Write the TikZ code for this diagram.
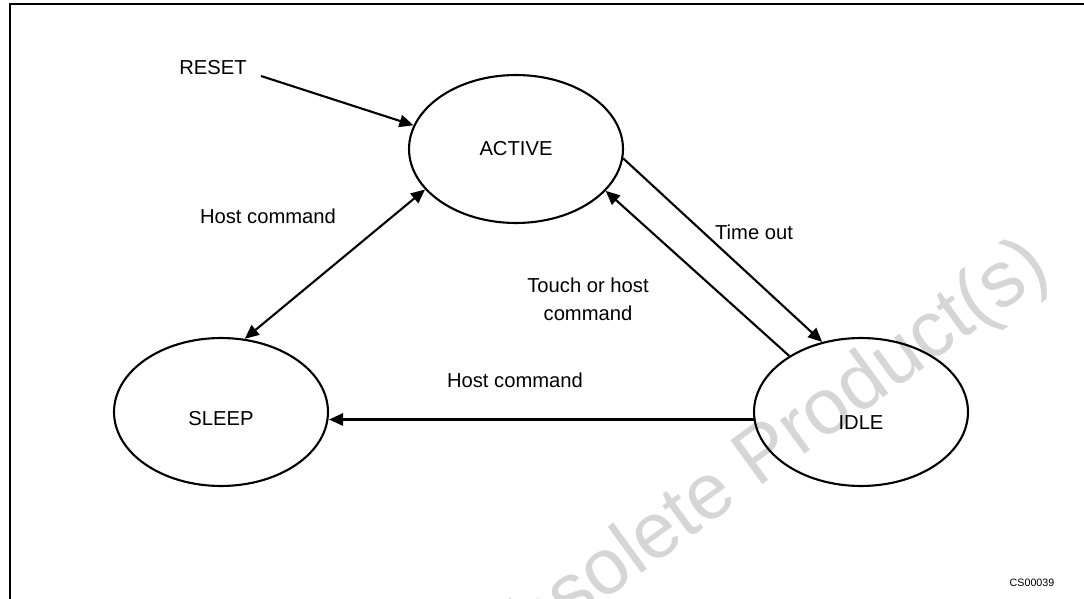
\documentclass[tikz,border=0pt]{standalone}
\usepackage{fontspec}
\setmainfont{Liberation Sans}
\usetikzlibrary{shapes,arrows.meta,calc,positioning}

\begin{document}
\begin{tikzpicture}[x=0.02cm,y=-0.02cm,
        state/.style={draw,ellipse,line width=1.2pt,minimum width=4.28cm,minimum height=2.96cm,inner sep=0pt,font=\fontsize{11.5}{14}\selectfont},
        lbl/.style={inner sep=0pt,align=center,font=\fontsize{11.5}{16}\selectfont},
        conn/.style={line width=1.2pt,-{Triangle[length=8pt,width=7pt]}},
        both/.style={line width=1.2pt,{Triangle[length=8pt,width=7pt]}-{Triangle[length=8pt,width=7pt]}}]

        \useasboundingbox (0,0) rectangle (1084,598);
        \clip (0,0) rectangle (1084,598);

        \node[rotate=36,anchor=base west,inner sep=0pt,text=black!16,font=\fontsize{45}{50}\selectfont] (mark) at (484,688) {Obsolete Product(s)};
        \draw[line width=1.2pt] (10,620) -- (10,4) -- (1100,4);

        \node[state] (active) at (516,149) {ACTIVE};
        \node[state,text height=19.6pt,text depth=0pt] (idle) at (861,412) {IDLE};
        \node[state,text height=15pt,text depth=0pt] (sleep) at (221,412) {SLEEP};

        \node[lbl] (reset) at (213,68) {RESET};
        \node[lbl] (hostdiag) at (268,216) {Host command};
        \node[lbl] (timeout) at (754,232) {Time out};
        \node[lbl] (touch) at (588,299) {Touch or host\\command};
        \node[lbl] (hostlow) at (515,380) {Host command};
        \node[inner sep=0pt,font=\fontsize{6.1}{7}\selectfont] (code) at (1032,583) {CS00039};

        \draw[conn] ([shift={(14,8)}]reset.east) -- (active.167);
        \draw[conn] (active.-5) -- (idle.119);
        \draw[conn] (idle.142) -- (active.-25);
        \draw[both] (active.204) -- (sleep.72);
        \draw[conn] (idle.184) -- (idle.184 -| sleep.east);
\end{tikzpicture}
\end{document}
